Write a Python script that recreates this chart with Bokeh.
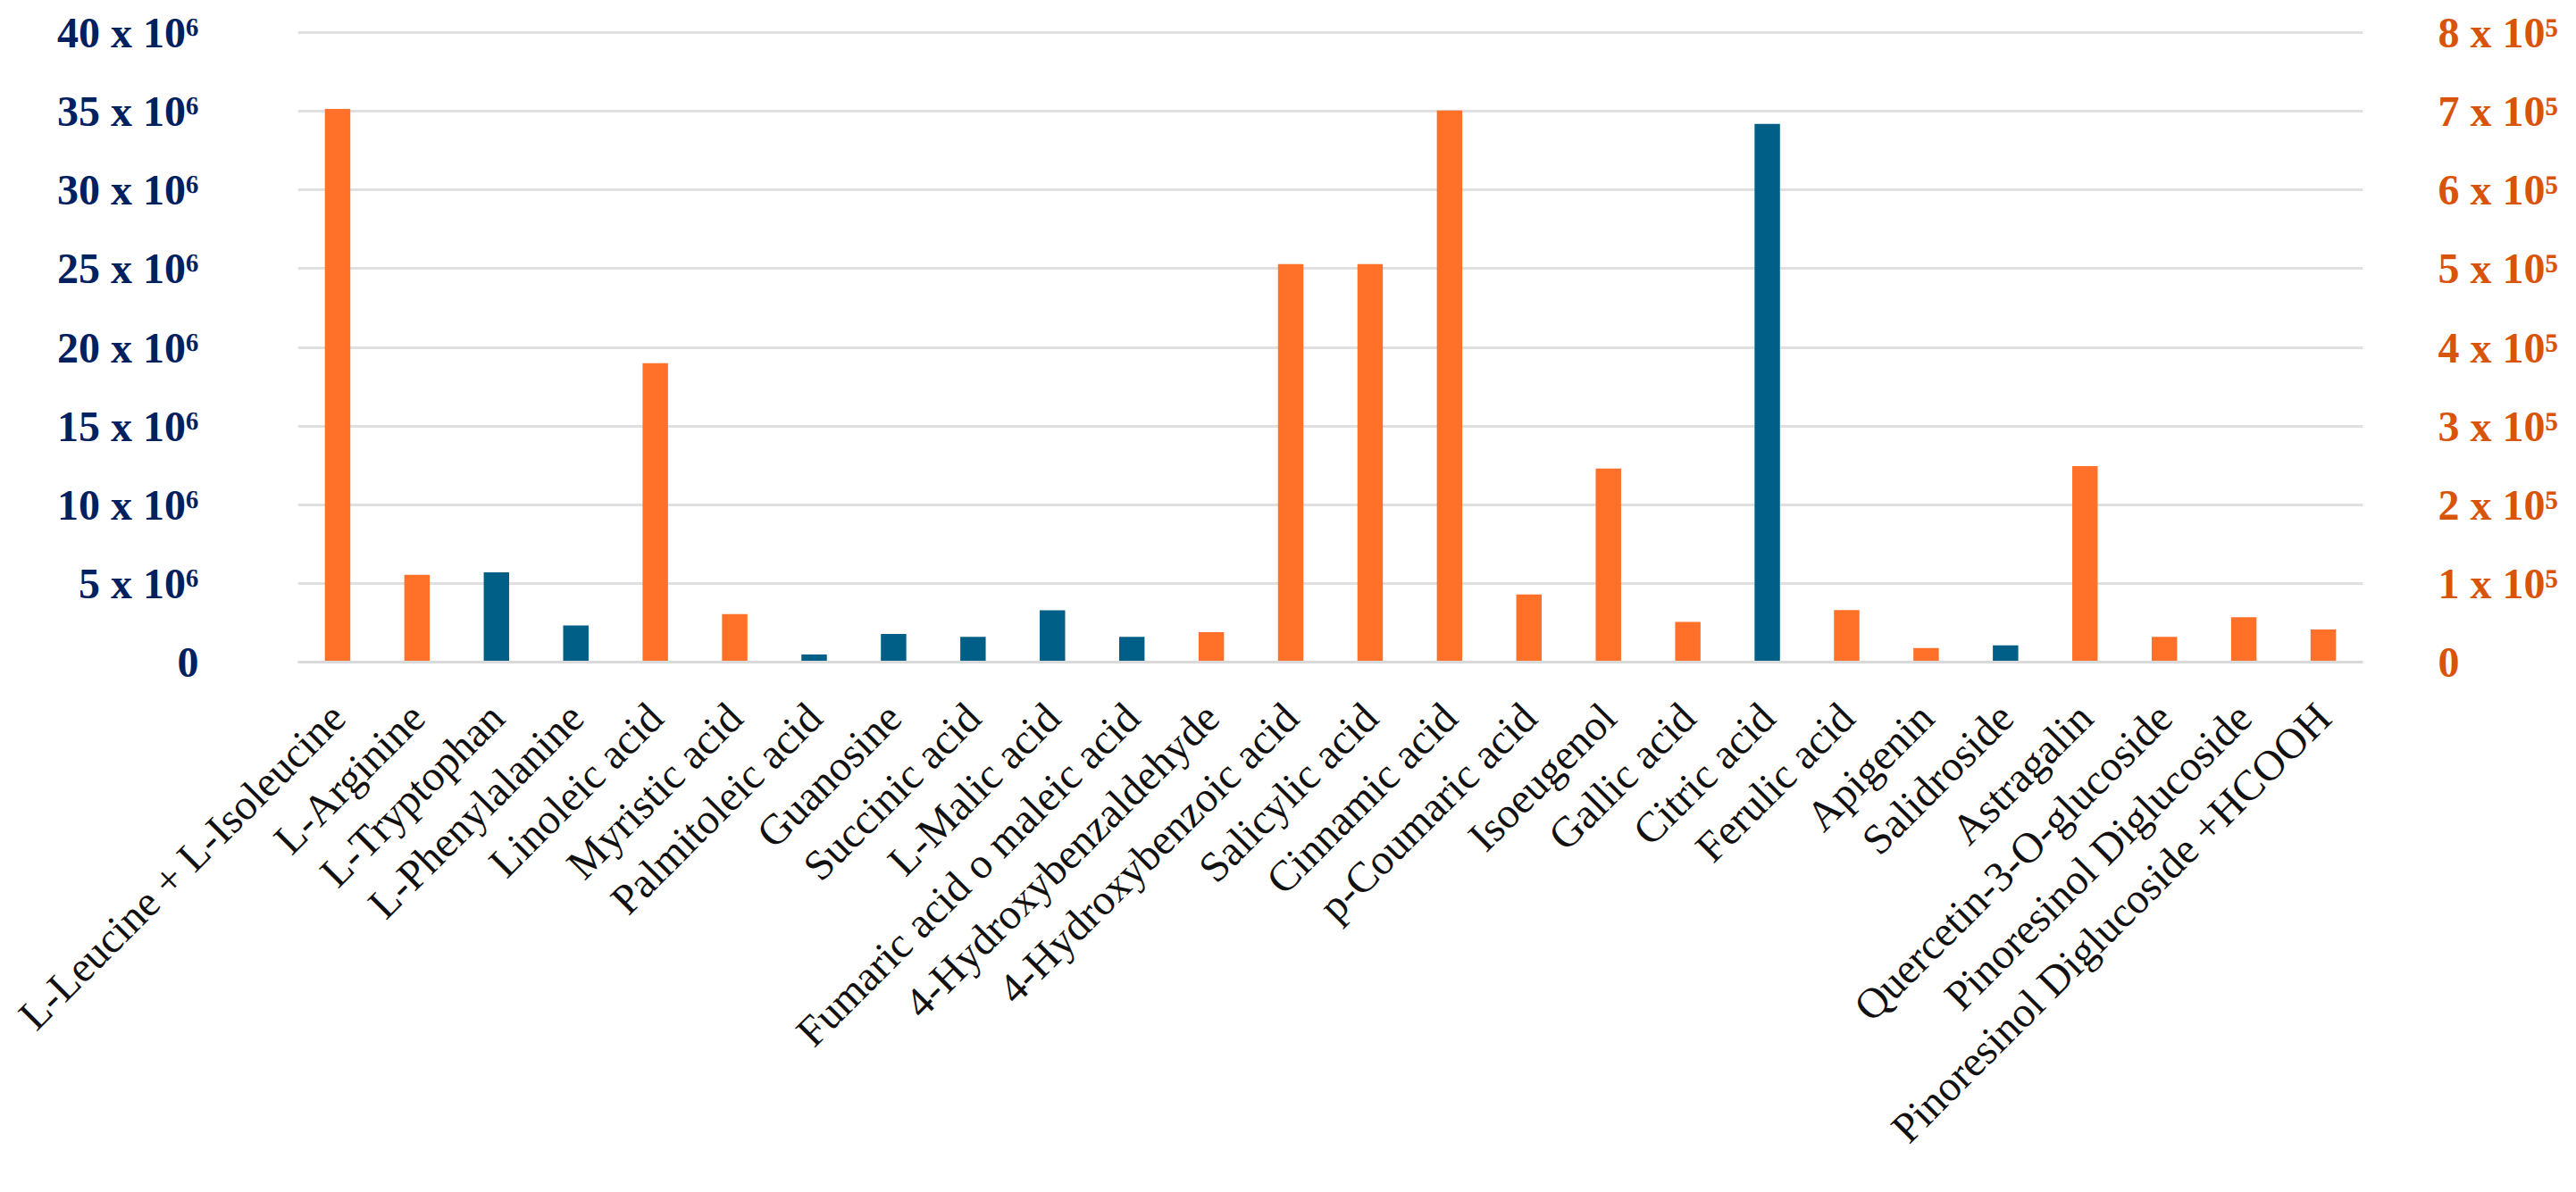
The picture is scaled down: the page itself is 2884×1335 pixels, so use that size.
import math
from bokeh.plotting import figure
from bokeh.models import Range1d, FactorRange, LinearAxis, FixedTicker, CustomJSTickFormatter
from bokeh.embed import file_html
from bokeh.resources import INLINE

categories = [
    "L-Leucine + L-Isoleucine", "L-Arginine", "L-Tryptophan", "L-Phenylalanine",
    "Linoleic acid", "Myristic acid", "Palmitoleic acid", "Guanosine",
    "Succinic acid", "L-Malic acid", "Fumaric acid o maleic acid",
    "4-Hydroxybenzaldehyde", "4-Hydroxybenzoic acid", "Salicylic acid",
    "Cinnamic acid", "p-Coumaric acid", "Isoeugenol", "Gallic acid",
    "Citric acid", "Ferulic acid", "Apigenin", "Salidroside", "Astragalin",
    "Quercetin-3-O-glucoside", "Pinoresinol Diglucoside",
    "Pinoresinol Diglucoside +HCOOH",
]

# left axis (blue bars)
blue_compounds = [
    "L-Tryptophan", "L-Phenylalanine", "Palmitoleic acid", "Guanosine",
    "Succinic acid", "L-Malic acid", "Fumaric acid o maleic acid",
    "Citric acid", "Salidroside",
]
blue_values = [5.70e6, 2.32e6, 0.48e6, 1.79e6, 1.60e6, 3.29e6, 1.60e6, 34.2e6, 1.06e6]

# right axis (orange bars)
orange_compounds = [
    "L-Leucine + L-Isoleucine", "L-Arginine", "Linoleic acid", "Myristic acid",
    "4-Hydroxybenzaldehyde", "4-Hydroxybenzoic acid", "Salicylic acid",
    "Cinnamic acid", "p-Coumaric acid", "Isoeugenol", "Gallic acid",
    "Ferulic acid", "Apigenin", "Astragalin", "Quercetin-3-O-glucoside",
    "Pinoresinol Diglucoside", "Pinoresinol Diglucoside +HCOOH",
]
orange_values = [7.03e5, 1.11e5, 3.80e5, 0.61e5, 0.38e5, 5.06e5, 5.06e5,
                 7.01e5, 0.86e5, 2.46e5, 0.51e5, 0.66e5, 0.18e5, 2.49e5,
                 0.32e5, 0.57e5, 0.415e5]

left_ticks = [0, 5e6, 10e6, 15e6, 20e6, 25e6, 30e6, 35e6, 40e6]
right_ticks = [0, 1e5, 2e5, 3e5, 4e5, 5e5, 6e5, 7e5, 8e5]

BLUE = "#005F86"
ORANGE = "#FF7029"
NAVY = "#002060"
DARK_ORANGE = "#D9540B"
GRID = "#E0E0E0"

TOP_PAD = 1.003  # keep the top gridline fully inside the frame

p = figure(
    width=2868, height=1319,
    x_range=FactorRange(*categories),
    y_range=Range1d(left_ticks[0], left_ticks[-1] * TOP_PAD),
    output_backend="svg", toolbar_location=None,
    min_border_left=333, min_border_right=223,
    min_border_top=34, min_border_bottom=578,
)
p.extra_y_ranges = {"right": Range1d(right_ticks[0], right_ticks[-1] * TOP_PAD)}
p.outline_line_color = None
p.background_fill_color = "white"
p.border_fill_color = "white"

p.vbar(x=blue_compounds, top=blue_values, width=0.32, fill_color=BLUE, line_color=None)
p.vbar(x=orange_compounds, top=orange_values, width=0.32, fill_color=ORANGE,
       line_color=None, y_range_name="right")

p.xgrid.grid_line_color = None
p.ygrid.grid_line_color = GRID
p.ygrid.grid_line_width = 3

# left axis
la = p.yaxis[0]
la.ticker = FixedTicker(ticks=left_ticks)
la.formatter = CustomJSTickFormatter(
    code="return tick == 0 ? '0' : (tick/1e6).toFixed(0) + ' x 10\u2076';")
la.axis_line_color = None
la.major_tick_line_color = None
la.minor_tick_line_color = None
la.major_label_text_font = "Liberation Serif"
la.major_label_text_font_style = "bold"
la.major_label_text_font_size = "48px"
la.major_label_text_color = NAVY
la.major_label_standoff = 105

# right axis
ra = LinearAxis(y_range_name="right")
ra.ticker = FixedTicker(ticks=right_ticks)
ra.formatter = CustomJSTickFormatter(
    code="return tick == 0 ? '0' : (tick/1e5).toFixed(0) + ' x 10\u2075';")
ra.axis_line_color = None
ra.major_tick_line_color = None
ra.minor_tick_line_color = None
ra.major_label_text_font = "Liberation Serif"
ra.major_label_text_font_style = "bold"
ra.major_label_text_font_size = "48px"
ra.major_label_text_color = DARK_ORANGE
ra.major_label_standoff = 78
p.add_layout(ra, "right")

# x axis
xa = p.xaxis[0]
xa.major_label_orientation = math.pi / 4
xa.major_tick_line_color = None
xa.minor_tick_line_color = None
xa.axis_line_color = "#D9D9D9"
xa.axis_line_width = 3
xa.major_label_text_font = "Liberation Serif"
xa.major_label_text_font_size = "48px"
xa.major_label_text_color = "#111111"
xa.major_label_standoff = 48

open("out.html", "w").write(file_html(p, INLINE))
